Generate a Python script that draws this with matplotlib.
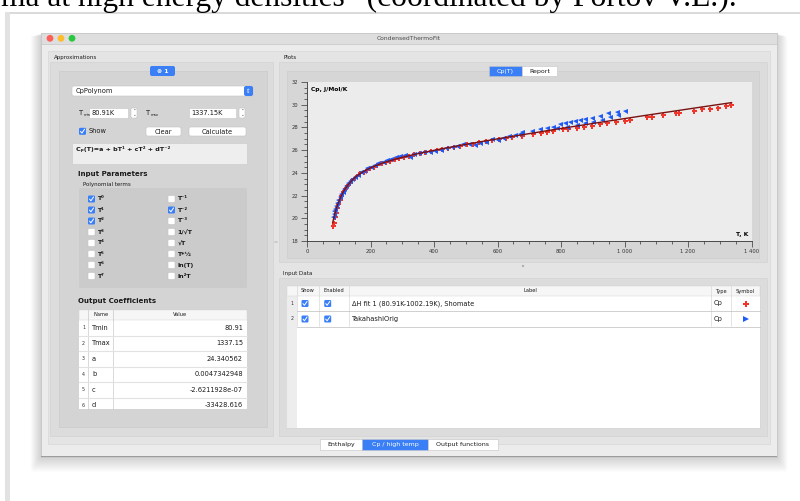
import numpy as np
import matplotlib.pyplot as plt
from matplotlib.patches import Rectangle, FancyBboxPatch, Circle
from matplotlib.ticker import MultipleLocator

plt.rcParams['font.family'] = ['DejaVu Sans']

# Cp data, J/Mol/K vs T, K
red_T = [82, 84, 87, 90, 94, 98, 103, 108, 114, 120, 127, 134, 142, 150, 159, 168,
         178, 188, 199, 210, 222, 235, 248, 262, 276, 291, 306, 322, 338, 355, 372,
         390, 408, 426, 445, 464, 483, 503, 523, 543, 563, 584, 605, 626, 647,
         676, 713, 736, 755, 776, 805, 823, 849, 872, 897, 923, 946, 973, 1002,
         1017, 1070, 1086, 1120, 1162, 1173, 1219, 1243, 1269, 1295, 1320, 1334]
red_cp = [19.35, 19.55, 20.1, 20.5, 20.9, 21.25, 21.65, 21.95, 22.3, 22.55, 22.85,
          23.1, 23.35, 23.55, 23.75, 23.95, 24.1, 24.28, 24.42, 24.55, 24.7, 24.83,
          24.95, 25.07, 25.18, 25.3, 25.4, 25.5, 25.62, 25.72, 25.82, 25.92, 26.02,
          26.1, 26.2, 26.3, 26.4, 26.5, 26.58, 26.68, 26.78, 26.85, 26.95, 27.05,
          27.12, 27.24, 27.42, 27.53, 27.62, 27.68, 27.83, 27.89, 27.98, 28.06,
          28.15, 28.27, 28.36, 28.48, 28.56, 28.62, 28.88, 28.88, 29.09, 29.24,
          29.29, 29.47, 29.59, 29.65, 29.73, 29.88, 29.94]

blue_T = [82, 84, 86, 89, 92, 95, 99, 103, 107, 112, 117, 123, 129, 136, 143, 151,
          160, 169, 179, 190, 201, 213, 225, 238, 251, 265, 279, 293, 308, 323, 338,
          354, 370, 387, 404, 421, 438, 456, 474, 492, 510, 528, 546, 564, 582, 600,
          618, 636, 654, 672, 676, 708, 734, 755, 776, 797, 813, 828, 844, 860, 876,
          897, 923, 949, 975, 1002, 786, 818, 849, 876, 902, 928, 954, 980]
blue_cp = [20.1, 20.35, 20.6, 20.8, 21.1, 21.35, 21.6, 21.85, 22.1, 22.35, 22.6,
           22.85, 23.1, 23.3, 23.5, 23.65, 23.85, 24.05, 24.2, 24.4, 24.5, 24.7,
           24.85, 24.95, 25.1, 25.25, 25.4, 25.5, 25.55, 25.4, 25.65, 25.75, 25.8,
           25.85, 25.95, 26.05, 26.15, 26.3, 26.35, 26.5, 26.55, 26.45, 26.6, 26.75,
           27.0, 26.9, 27.1, 27.25, 27.3, 27.45, 27.62, 27.71, 27.86, 27.92, 28.06,
           28.27, 28.36, 28.5, 28.59, 28.65, 28.74, 28.85, 29.03, 29.24, 29.38,
           29.47, 27.92, 28.06, 28.21, 28.36, 28.48, 28.65, 28.88, 29.09]

coef_names = ['Tmin', 'Tmax', 'a', 'b', 'c', 'd']
coef_values = [80.91, 1337.15, 24.340562, 0.0047342948, -2.6211928e-07, -33428.616]

left_terms = ['T⁰', 'T¹', 'T²', 'T³', 'T⁴', 'T⁵', 'T⁶', 'T⁷']
left_on = [1, 1, 1, 0, 0, 0, 0, 0]
right_terms = ['T⁻¹', 'T⁻²', 'T⁻³', '1/√T', '√T', 'T*½', 'ln(T)', 'ln²T']
right_on = [0, 1, 0, 0, 0, 0, 0, 0]

x_ticks = [0, 200, 400, 600, 800, 1000, 1200, 1400]
x_labels = ['0', '200', '400', '600', '800', '1 000', '1 200', '1 400']
y_ticks = [18, 20, 22, 24, 26, 28, 30, 32]

data_labels = ['ΔH fit 1 (80.91K-1002.19K), Shomate', 'TakahashiOrig']
data_types = ['Cp', 'Cp']

fig = plt.figure(figsize=(8, 5.01), dpi=100)
bg = fig.add_axes([0, 0, 1, 1])
bg.set_xlim(0, 800)
bg.set_ylim(501, 0)
bg.set_autoscale_on(False)
bg.axis('off')


def box(x0, y0, x1, y1, fc, ec='none', lw=0.5, r=0, alpha=1.0, z=1):
    if r:
        p = FancyBboxPatch((x0, y0), x1 - x0, y1 - y0,
                           boxstyle=f"round,pad=0,rounding_size={r}",
                           fc=fc, ec=ec, lw=lw, alpha=alpha, zorder=z)
    else:
        p = Rectangle((x0, y0), x1 - x0, y1 - y0, fc=fc, ec=ec, lw=lw,
                      alpha=alpha, zorder=z)
    bg.add_patch(p)


def label(x, y, s, size=4.6, ha='left', color='#1a1a1a', weight='normal', z=10, **kw):
    bg.text(x, y, s, fontsize=size, ha=ha, va='center', color=color,
            fontweight=weight, zorder=z, **kw)


def checkbox(cx, cy, on):
    if on:
        box(cx - 3.5, cy - 3.5, cx + 3.5, cy + 3.5, '#3a7ff6', r=1.2, z=5)
        bg.plot([cx - 2, cx - 0.6, cx + 2.1], [cy + 0.1, cy + 1.8, cy - 2.1],
                color='white', lw=0.7, zorder=6, solid_capstyle='round')
    else:
        box(cx - 3.5, cy - 3.5, cx + 3.5, cy + 3.5, 'white', ec='#c2c2c2',
            lw=0.4, r=1.2, z=5)


def stepper(x0, y0, x1, y1):
    box(x0, y0, x1, y1, 'white', ec='#c4c4c4', lw=0.4, r=1.5, z=4)
    cx = (x0 + x1) / 2
    label(cx, y0 + 2.8, '⌃', size=3.2, ha='center', color='#555', z=6)
    label(cx, y1 - 2.8, '⌄', size=3.2, ha='center', color='#555', z=6)


# page text above the screenshot, cut by the page edge
bg.text(1, 6, 'ma at high energy densities” (coordinated by Fortov V.E.).',
        fontsize=22.7, family='Liberation Serif', va='baseline', color='black')
box(5, 12, 800, 13.6, '#dadada', z=1)
box(5, 12, 10, 501, '#e2e2e2', z=1)

# window shadow
for k in range(1, 16):
    box(41 - k * 0.7, 33 + k * 0.2, 777 + k * 0.7, 457 + k * 1.0, 'black',
        alpha=0.012, r=3, z=1)

# window
box(41, 33, 777, 457, '#ececec', ec='#b8b8b8', lw=0.4, z=2)
box(41, 33, 777, 43.5, '#dedede', ec='#c0c0c0', lw=0.4, z=2)
for cx, col in zip([50, 61, 72], ['#fc5f57', '#fdbc2e', '#2ac840']):
    bg.add_patch(Circle((cx, 38.3), 3.4, fc=col, ec='none', zorder=3))
label(409, 38.3, 'CondensedThermoFit', size=4.3, ha='center', color='#4a4a4a')
box(41, 455.5, 777, 457, '#9c9c9c', z=3)

# panes
box(48, 51, 770, 444, '#e4e4e4', ec='#d4d4d4', lw=0.4, z=2)
box(50, 62, 273, 436, '#dcdcdc', ec='#d0d0d0', lw=0.4, z=2)
box(279, 62, 767, 262, '#dcdcdc', ec='#d0d0d0', lw=0.4, z=2)
box(279, 278, 767, 436, '#dcdcdc', ec='#d0d0d0', lw=0.4, z=2)
box(59, 71, 267, 427, '#d4d4d4', ec='#c8c8c8', lw=0.4, z=2)
box(287, 71, 759, 258, '#d6d6d6', ec='#cacaca', lw=0.4, z=2)
label(54, 57, 'Approximations', size=4.0)
label(283, 57, 'Plots', size=4.0)
label(283, 273, 'Input Data', size=4.0)
bg.add_patch(Circle((523, 266), 1.2, fc='#b0b0b0', ec='none', zorder=3))
label(276, 243, '=', size=3.5, ha='center', color='#aaaaaa')

# left pane: approximation controls
box(150, 66, 175, 76, '#3a7ff6', r=2, z=4)
label(162.5, 71, '⊗ 1', size=4.4, ha='center', color='white', weight='bold')
box(72, 86, 253, 96, 'white', ec='#c4c4c4', lw=0.4, r=2, z=4)
box(244, 86, 253, 96, '#3a7ff6', r=2, z=5)
label(248.5, 91, '⇕', size=4, ha='center', color='white')
label(76, 91, 'CpPolynom', size=4.8)

label(79, 113, 'T', size=4.8)
label(83.2, 114.5, 'min', size=2.6)
box(89, 108, 128, 118, 'white', ec='#c4c4c4', lw=0.4, z=4)
label(91, 113, '80.91K', size=4.8)
stepper(131, 108, 137, 118)
label(146, 113, 'T', size=4.8)
label(150.2, 114.5, 'max', size=2.6)
box(189, 108, 236, 118, 'white', ec='#c4c4c4', lw=0.4, z=4)
label(191, 113, '1337.15K', size=4.8)
stepper(239, 108, 245, 118)

checkbox(82.5, 131.3, True)
label(89, 131.3, 'Show', size=4.8)
box(146, 127, 181, 136, 'white', ec='#c4c4c4', lw=0.4, r=2, z=4)
label(163.5, 131.5, 'Clear', size=4.8, ha='center')
box(189, 127, 246, 136, 'white', ec='#c4c4c4', lw=0.4, r=2, z=4)
label(217.5, 131.5, 'Calculate', size=4.8, ha='center')

box(72, 143, 247, 164, '#eeeeee', ec='#c8c8c8', lw=0.4, z=4)
label(76, 149.5, 'Cₚ(T)=a + bT¹ + cT² + dT⁻²', size=4.6, weight='bold')

label(78, 174, 'Input Parameters', size=5.0, weight='bold')
label(83, 184.3, 'Polynomial terms', size=4.0)
box(79, 188, 247, 288, '#cbcbcb', ec='none', r=2, z=3)
for i in range(8):
    cy = 199 + i * 11
    checkbox(91.5, cy, left_on[i])
    label(97.5, cy, left_terms[i], size=4.5, weight='bold')
    checkbox(171.5, cy, right_on[i])
    label(177.5, cy, right_terms[i], size=4.5, weight='bold')

label(78, 301, 'Output Coefficients', size=5.0, weight='bold')
box(79, 310, 247, 409, 'white', ec='none', z=4)
box(79, 310, 247, 320, '#f6f6f6', ec='#d2d2d2', lw=0.3, z=4)
label(101, 315, 'Name', size=3.7, ha='center')
label(180, 315, 'Value', size=3.7, ha='center')
for xv in [88, 113]:
    bg.plot([xv, xv], [310, 409], color='#bdbdbd', lw=0.4, zorder=6)
for i, (nm, val) in enumerate(zip(coef_names, coef_values)):
    cy = 327.75 + i * 15.5
    label(83.5, cy, str(i + 1), size=3.4, ha='center', color='#333')
    label(92, cy, nm, size=4.8)
    label(243, cy, str(val), size=4.8, ha='right')
    if i:
        bg.plot([79, 247], [cy - 7.75, cy - 7.75], color='#e2e2e2', lw=0.8, zorder=6)

# input data table
box(287, 286, 760, 428, 'white', ec='#c6c6c6', lw=0.4, z=4)
box(287, 286, 297, 428, '#ededed', ec='none', z=4)
box(287, 286, 760, 296, '#f6f6f6', ec='#d2d2d2', lw=0.3, z=4)
for xv in [297, 319, 349, 711, 731]:
    bg.plot([xv, xv], [286, 326], color='#cfcfcf', lw=0.4, zorder=6)
for cx, nm in zip([308, 334, 530, 721, 745.5],
                  ['Show', 'Enabled', 'Label', 'Type', 'Symbol']):
    label(cx, 291, nm, size=3.7, ha='center')
for i, (lb, tp) in enumerate(zip(data_labels, data_types)):
    cy = 303.5 + i * 15.5
    label(291.7, cy, str(i + 1), size=3.4, ha='center', color='#333')
    checkbox(305, cy, True)
    checkbox(327.7, cy, True)
    label(352, cy, lb, size=4.8)
    label(714, cy, tp, size=4.8)
    bg.plot([297, 760], [cy + 7.75, cy + 7.75], color='#bdbdbd', lw=0.5, zorder=6)
bg.plot([745.5], [303.5], marker='P', ms=4.5, color='#f0352b', mew=0, zorder=7)
bg.plot([745.5], [319], marker='>', ms=4.5, color='#1f5af5', mew=0, zorder=7)

# bottom and plot tabs
tabs = [(320, 362, 'Enthalpy', False), (362, 428, 'Cp / high temp', True),
        (428, 498, 'Output functions', False)]
for x0, x1, nm, on in tabs:
    box(x0, 439, x1, 450, '#3a7ff6' if on else 'white', ec='#c4c4c4', lw=0.4, z=4)
    label((x0 + x1) / 2, 444.5, nm, size=4.5, ha='center',
          color='white' if on else '#1a1a1a')
for x0, x1, nm, on in [(489, 522, 'Cp(T)', True), (522, 557, 'Report', False)]:
    box(x0, 66, x1, 76, '#3a7ff6' if on else 'white', ec='#c4c4c4', lw=0.4, z=4)
    label((x0 + x1) / 2, 71, nm, size=4.5, ha='center',
          color='white' if on else '#1a1a1a')

# Cp(T) chart
ax = fig.add_axes([307 / 800, (501 - 241) / 501, (751.5 - 307) / 800, (241 - 82) / 501])
ax.set_facecolor('#ececec')
a, b, c, d = coef_values[2:]
T = np.linspace(coef_values[0], coef_values[1], 400)
ax.plot(red_T, red_cp, linestyle='none', marker='P', ms=3.6, mew=0, color='#f0352b')
ax.plot(blue_T, blue_cp, linestyle='none', marker='<', ms=3.6, mew=0, color='#1f5af5')
ax.plot(T, a + b * T + c * T ** 2 + d / T ** 2, color='#7a1111', lw=1.0)
ax.set_xlim(0, 1400)
ax.set_ylim(18, 32)
ax.set_xticks(x_ticks)
ax.set_xticklabels(x_labels)
ax.set_yticks(y_ticks)
ax.xaxis.set_minor_locator(MultipleLocator(50))
ax.yaxis.set_minor_locator(MultipleLocator(0.5))
ax.tick_params(which='major', length=4, width=0.5, labelsize=3.8, pad=2, colors='#333')
ax.tick_params(which='minor', length=2, width=0.5, colors='#333')
for side in ['top', 'right']:
    ax.spines[side].set_visible(False)
for side in ['left', 'bottom']:
    ax.spines[side].set_linewidth(0.6)
    ax.spines[side].set_color('#333')
ax.text(0.008, 0.955, 'Cp, J/Mol/K', transform=ax.transAxes, fontsize=4.3,
        fontweight='bold', va='center')
ax.text(0.994, 0.044, 'T, K', transform=ax.transAxes, fontsize=4.3,
        fontweight='bold', va='center', ha='right')

fig.savefig('out.png', dpi=100)
